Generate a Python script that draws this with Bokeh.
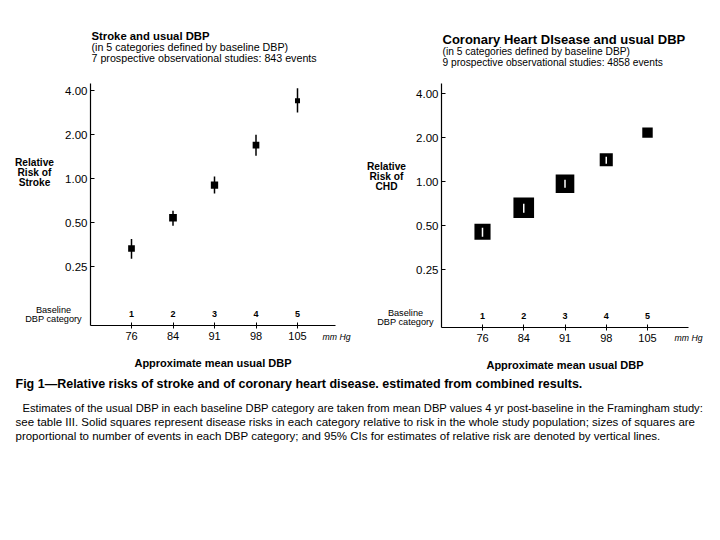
from bokeh.plotting import figure
from bokeh.models import (Range1d, FixedTicker, PrintfTickFormatter, Label, ColumnDataSource,
                          LogAxis, LinearAxis, LogScale, LinearScale)
from bokeh.embed import file_html
from bokeh.resources import INLINE
from bokeh.core.properties import value
import math

# ---------------- data ----------------
categories = [1, 2, 3, 4, 5]
category_names = ["1", "2", "3", "4", "5"]
dbp_labels = ["76", "84", "91", "98", "105"]
y_ticks = [0.25, 0.5, 1.0, 2.0, 4.0]

stroke_rr = [0.332, 0.539, 0.901, 1.69, 3.40]
stroke_lo = [0.283, 0.475, 0.79, 1.43, 2.83]
stroke_hi = [0.385, 0.601, 1.03, 1.99, 4.15]
stroke_events = [166, 220, 198, 166, 93]

chd_rr = [0.454, 0.663, 0.969, 1.415, 2.17]
chd_lo = [0.42, 0.613, 0.91, 1.33, float("nan")]
chd_hi = [0.484, 0.707, 1.03, 1.48, float("nan")]
chd_events = [960, 1575, 1283, 634, 404]

FONT = "Liberation Sans"
SQ_K = 0.52  # marker side in px per sqrt(event count)
W, H = 720, 540


class Geo:
    """page-pixel -> data mapping for one panel"""
    def __init__(self, cat1_px, px_unit, one_px, px_doubling):
        self.cat1_px, self.px_unit = cat1_px, px_unit
        self.one_px, self.px_doubling = one_px, px_doubling

    def x(self, X):
        return 1 + (X - self.cat1_px) / self.px_unit

    def y(self, Y):
        return 2 ** ((self.one_px - Y) / self.px_doubling)


g1 = Geo(cat1_px=131, px_unit=41.5, one_px=178, px_doubling=44)
g2 = Geo(cat1_px=482, px_unit=41.25, one_px=181.2, px_doubling=43.9)

p = figure(width=W, height=H,
           x_range=Range1d(g1.x(0), g1.x(W)), y_range=Range1d(g1.y(H), g1.y(0)),
           y_axis_type="log", output_backend="svg", toolbar_location=None, min_border=0)
p.extra_x_ranges = {"x2": Range1d(g2.x(0), g2.x(W)), "px": Range1d(0, W)}
p.extra_y_ranges = {"y2": Range1d(g2.y(H), g2.y(0)), "py": Range1d(H, 0)}
p.extra_x_scales = {"x2": LinearScale(), "px": LinearScale()}
p.extra_y_scales = {"y2": LogScale(), "py": LinearScale()}
p.grid.visible = False
p.outline_line_color = None


def style_axes(ya, xa, g, axis_x_px, axis_y_px, x_end_px, y_top_px):
    ya.fixed_location = g.x(axis_x_px)
    ya.bounds = (g.y(axis_y_px), g.y(y_top_px))
    ya.ticker = FixedTicker(ticks=y_ticks, minor_ticks=[])
    ya.formatter = PrintfTickFormatter(format="%.2f")
    ya.major_tick_in = 4
    ya.major_tick_out = 0
    ya.minor_tick_line_color = None
    ya.major_label_standoff = 3
    ya.major_label_text_font = FONT
    ya.major_label_text_font_size = "11.5px"
    ya.major_label_text_color = "black"
    ya.axis_line_color = "black"
    ya.axis_line_width = 1.2
    ya.major_tick_line_color = "black"
    xa.fixed_location = g.y(axis_y_px)
    xa.bounds = (g.x(axis_x_px), g.x(x_end_px))
    xa.ticker = FixedTicker(ticks=categories, minor_ticks=[])
    xa.major_label_overrides = {c: l for c, l in zip(categories, dbp_labels)}
    xa.major_tick_in = 3
    xa.major_tick_out = 3
    xa.minor_tick_line_color = None
    xa.major_label_standoff = 3
    xa.major_label_text_font = FONT
    xa.major_label_text_font_size = "11px"
    xa.major_label_text_color = "black"
    xa.axis_line_color = "black"
    xa.axis_line_width = 1.2
    xa.axis_label = "Approximate mean usual DBP"
    xa.axis_label_text_font = FONT
    xa.axis_label_text_font_size = "11px"
    xa.axis_label_text_font_style = "bold"
    xa.axis_label_text_color = "black"
    xa.axis_label_standoff = 14


# panel 1 axes: the figure's own
style_axes(p.yaxis[0], p.xaxis[0], g1, 90, 325, 335, 83)
# panel 2 axes
ya2 = LogAxis(x_range_name="x2", y_range_name="y2")
xa2 = LinearAxis(x_range_name="x2", y_range_name="y2")
p.add_layout(ya2, "left")
p.add_layout(xa2, "below")
style_axes(ya2, xa2, g2, 441, 327, 688, 83)


def category_numbers(g, axis_y_px, **kw):
    src = ColumnDataSource(dict(x=categories, t=category_names,
                                y=[g.y(axis_y_px)] * len(categories)))
    p.text(x="x", y="y", text="t", source=src, y_offset=-12, text_align="center",
           text_baseline="middle", text_font=value(FONT), text_font_size="9px",
           text_font_style="bold", text_color="black", **kw)


def lab(text, X, Y, size, style="normal", align="left"):
    p.add_layout(Label(x=X, y=Y, x_range_name="px", y_range_name="py", text=text,
                       text_font=FONT, text_font_size=f"{size}px", text_font_style=style,
                       text_align=align, text_baseline="middle", text_color="black"))


# ---------------- left: stroke ----------------
s1 = ColumnDataSource(dict(x=categories, rr=stroke_rr, lo=stroke_lo, hi=stroke_hi,
                           sz=[SQ_K * math.sqrt(e) for e in stroke_events]))
p.segment(x0="x", y0="lo", x1="x", y1="hi", source=s1, line_color="black", line_width=1.5)
p.scatter(x="x", y="rr", size="sz", marker="square", source=s1,
          fill_color="black", line_color=None)
category_numbers(g1, 325)
lab("Stroke and usual DBP", 91, 35, 11.3, "bold")
lab("(in 5 categories defined by baseline DBP)", 91, 46, 10.7)
lab("7 prospective observational studies: 843 events", 91, 57, 10.7)
lab("Relative", 34, 162, 10.2, "bold", "center")
lab("Risk of", 34, 172, 10.2, "bold", "center")
lab("Stroke", 34, 182, 10.2, "bold", "center")
lab("Baseline", 53, 309, 9.2, "normal", "center")
lab("DBP category", 53, 318, 9.2, "normal", "center")
lab("mm Hg", 336, 336, 8.7, "italic", "center")

# ---------------- right: CHD ----------------
s2 = ColumnDataSource(dict(x=categories, rr=chd_rr, lo=chd_lo, hi=chd_hi,
                           sz=[SQ_K * math.sqrt(e) for e in chd_events]))
p.scatter(x="x", y="rr", size="sz", marker="square", source=s2,
          fill_color="black", line_color=None, x_range_name="x2", y_range_name="y2")
p.segment(x0="x", y0="lo", x1="x", y1="hi", source=s2, line_color="white", line_width=1.5,
          x_range_name="x2", y_range_name="y2")
category_numbers(g2, 327, x_range_name="x2", y_range_name="y2")
lab("Coronary Heart DIsease and usual DBP", 442, 39, 13, "bold")
lab("(in 5 categories defined by baseline DBP)", 442, 51, 10.2)
lab("9 prospective observational studies: 4858 events", 442, 62, 10.2)
lab("Relative", 386, 166, 10.2, "bold", "center")
lab("Risk of", 386, 176, 10.2, "bold", "center")
lab("CHD", 386, 186, 10.2, "bold", "center")
lab("Baseline", 405, 312, 9.2, "normal", "center")
lab("DBP category", 405, 321, 9.2, "normal", "center")
lab("mm Hg", 688, 337, 8.7, "italic", "center")

# ---------------- caption ----------------
lab("Fig 1\u2014Relative risks of stroke and of coronary heart disease. estimated from combined results.",
    15, 383, 12.5, "bold")
lab("Estimates of the usual DBP in each baseline DBP category are taken from mean DBP values 4 yr post-baseline in the Framingham study:",
    22, 407, 11.2)
lab("see table III. Solid squares represent disease risks in each category relative to risk in the whole study population; sizes of squares are",
    15, 421, 11.5)
lab("proportional to number of events in each DBP category; and 95% CIs for estimates of relative risk are denoted by vertical lines.",
    15, 435, 11.5)

open("out.html", "w").write(file_html(p, INLINE))
